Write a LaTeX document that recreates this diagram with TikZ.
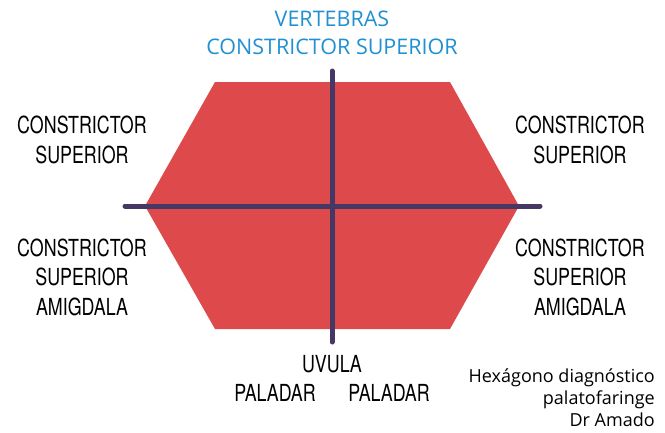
\documentclass[tikz,border=0pt]{standalone}
\usepackage{fontspec}
\setmainfont{Open Sans}
\newfontfamily\narrowfont[FakeStretch=0.76]{TeX Gyre Heros}
\definecolor{rosso}{HTML}{DE4A4B}
\definecolor{viola}{HTML}{463865}
\definecolor{azzurro}{HTML}{2190D2}
\begin{document}
\begin{tikzpicture}[x=1pt,y=-1pt,
  etichetta/.style={align=center,font=\narrowfont\fontsize{23.5}{29.5}\selectfont,inner sep=0pt},
  asse/.style={viola,line width=5pt,line cap=round}]

\useasboundingbox (0,0) rectangle (665,432);

% Esagono
\coordinate (o) at (332,206);
\coordinate (s) at (145,206);
\coordinate (d) at (519,206);
\coordinate (as) at (215,82);
\coordinate (ad) at (450,82);
\coordinate (bs) at (215,329);
\coordinate (bd) at (450,329);

\fill[rosso] (as) -- (ad) -- (d) -- (bd) -- (bs) -- (s) -- cycle;

% Assi
\path (o) -- +(-207,0) coordinate (h1);
\path (o) -- +(208,0) coordinate (h2);
\path (o) -- +(0,-135) coordinate (v1);
\path (o) -- +(0,136) coordinate (v2);
\draw[asse] (h1) -- (h2);
\draw[asse] (v1) -- (v2);

% Testi
\node[align=center,text=azzurro,font=\fontsize{21.5}{28}\selectfont,inner sep=0pt] (vert) at (332,33) {VERTEBRAS\\CONSTRICTOR SUPERIOR};
\node[etichetta] (cs1) at (82,140) {CONSTRICTOR\\SUPERIOR};
\node[etichetta] (cs2) at (580,140) {CONSTRICTOR\\SUPERIOR};
\node[etichetta] (ca1) at (82,277) {CONSTRICTOR\\SUPERIOR\\AMIGDALA};
\node[etichetta] (ca2) at (580,277) {CONSTRICTOR\\SUPERIOR\\AMIGDALA};
\node[etichetta] (uv) at (332,364) {UVULA};
\node[etichetta] (pal1) at (275,393) {PALADAR};
\node[etichetta] (pal2) at (389,393) {PALADAR};
\node[align=right,anchor=east,font=\fontsize{18}{22}\selectfont,inner sep=0pt] (firma) at (655,398) {Hexágono diagnóstico\\palatofaringe\\Dr Amado};

\end{tikzpicture}
\end{document}
